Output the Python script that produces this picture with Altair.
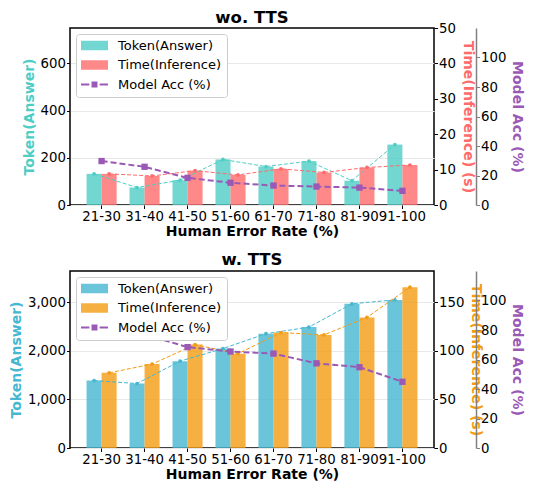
import altair as alt
import pandas as pd

cats = ["21-30", "31-40", "41-50", "51-60", "61-70", "71-80", "81-90", "91-100"]

wo_token = [132, 74, 105, 193, 163, 186, 103, 256]
wo_time = [8.8, 8.2, 9.7, 8.5, 10.2, 9.2, 10.6, 11.3]
wo_acc = [29.8, 25.9, 18.4, 15.1, 13.2, 12.5, 11.8, 9.6]

w_token = [1386, 1326, 1786, 2045, 2350, 2486, 2966, 3046]
w_time = [77.3, 86.3, 106.3, 97.0, 118.7, 116.3, 134.3, 165.3]
w_acc = [75.2, 77.0, 68.4, 65.4, 64.0, 57.4, 54.8, 44.9]

series = ["Token(Answer)", "Time(Inference)", "Model Acc (%)"]

FONT = "DejaVu Sans"
W, H = 364, 177

RECT = "M-1,-0.35H1V0.35H-1Z"
LINESYM = ("M-1,-0.075H-0.38V0.075H-1Z "
           "M-0.22,-0.22H0.22V0.22H-0.22Z "
           "M0.38,-0.075H1V0.075H0.38Z")


def panel(title, title_offset, token, time, acc, c_tok, c_time, leg_tok, leg_time,
          tok_dom, tok_ticks, tok_fmt, time_dom, time_ticks):
    c_acc = "#9B59B6"
    df = pd.DataFrame({"cat": cats, "token": token, "time": time, "acc": acc})
    base = alt.Chart(df).transform_calculate(s_tok="'Token'", s_time="'Time'")

    xcat = alt.X("cat:N", sort=cats,
                 scale=alt.Scale(paddingInner=0.3, paddingOuter=0.385),
                 axis=alt.Axis(title="Human Error Rate (%)", labelAngle=0, titlePadding=2))
    xoff_dom = alt.Scale(domain=["Token", "Time"], paddingInner=0, paddingOuter=0)

    y_tok = lambda ax: alt.Y("token:Q", scale=alt.Scale(domain=tok_dom, nice=False), axis=ax)
    y_time = lambda ax: alt.Y("time:Q", scale=alt.Scale(domain=time_dom, nice=False), axis=ax)
    y_acc = lambda ax: alt.Y("acc:Q", scale=alt.Scale(domain=[0, 120], nice=False), axis=ax)

    tok_axis = alt.Axis(title="Token(Answer)", titleColor=c_tok, values=tok_ticks,
                        format=tok_fmt, grid=True, orient="left")
    time_axis = alt.Axis(title="Time(Inference) (s)", titleColor=c_time, values=time_ticks,
                         grid=False, orient="right", titlePadding=5)
    acc_axis = alt.Axis(title="Model Acc (%)", titleColor=c_acc, values=[0, 20, 40, 60, 80, 100],
                        grid=False, orient="right", offset=42, domain=True, titlePadding=4,
                        domainColor="#808080", domainWidth=1.5, tickColor="#808080")

    tok_bar = base.mark_bar(color=c_tok, opacity=0.8).encode(
        x=xcat, xOffset=alt.XOffset("s_tok:N", scale=xoff_dom), y=y_tok(tok_axis))
    time_bar = base.mark_bar(color=c_time, opacity=0.8).encode(
        x=xcat, xOffset=alt.XOffset("s_time:N", scale=xoff_dom), y=y_time(time_axis))

    x_tok = alt.X("cat:N", sort=cats, bandPosition=0.25)
    x_time = alt.X("cat:N", sort=cats, bandPosition=0.75)
    x_mid = alt.X("cat:N", sort=cats, bandPosition=0.5)

    tok_line = base.mark_line(color=c_tok, strokeWidth=1, strokeDash=[4, 2]).encode(
        x=x_tok, y=y_tok(None))
    tok_pt = base.mark_point(color=c_tok, filled=True, opacity=1, size=14).encode(
        x=x_tok, y=y_tok(None))
    time_line = base.mark_line(color=c_time, strokeWidth=1, strokeDash=[4, 2]).encode(
        x=x_time, y=y_time(None))
    time_pt = base.mark_point(color=c_time, filled=True, opacity=1, size=14).encode(
        x=x_time, y=y_time(None))
    acc_line = base.mark_line(color=c_acc, strokeWidth=2, strokeDash=[6, 3]).encode(
        x=x_mid, y=y_acc(acc_axis))
    acc_pt = base.mark_point(color=c_acc, filled=True, opacity=1, shape="square", size=40).encode(
        x=x_mid, y=y_acc(None))

    leg_df = pd.DataFrame({"series": series})
    legend = alt.Chart(leg_df).transform_filter("false").mark_point(filled=True, opacity=1).encode(
        color=alt.Color("series:N", scale=alt.Scale(domain=series, range=[leg_tok, leg_time, c_acc]),
                        legend=alt.Legend(title=None, orient="top-left", offset=6,
                                          fillColor="white", strokeColor="#cccccc",
                                          cornerRadius=3, padding=5,
                                          labelFont=FONT, labelFontSize=13, labelColor="black",
                                          symbolSize=729, labelOffset=10, rowPadding=5.5,
                                          clipHeight=13, symbolStrokeWidth=0)),
        shape=alt.Shape("series:N", scale=alt.Scale(domain=series, range=[RECT, RECT, LINESYM]),
                        legend=alt.Legend(title=None, orient="top-left")),
    )

    ch = alt.layer(tok_bar, time_bar, tok_line, tok_pt, time_line, time_pt, acc_line, acc_pt, legend
                   ).resolve_scale(y="independent").properties(
        width=W, height=H,
        title=alt.TitleParams(title, fontSize=16.5, font=FONT, fontWeight="bold",
                              frame="group", anchor="middle", offset=title_offset, color="black"))
    return ch


top = panel("wo. TTS", -5, wo_token, wo_time, wo_acc, "#4ECDC4", "#FF6B6B", "#71d7d0", "#ff8989",
            [0, 750], [0, 200, 400, 600], "d", [0, 50], [0, 10, 20, 30, 40, 50])
bottom = panel("w. TTS", 3, w_token, w_time, w_acc, "#45B7D1", "#F39C12", "#6ac5da", "#f5b041",
               [0, 3640], [0, 1000, 2000, 3000], ",d", [0, 182], [0, 50, 100, 150])

chart = alt.vconcat(top, bottom, spacing=10).resolve_scale(
    color="independent", shape="independent"
).properties(padding=0).configure_view(
    stroke="black", strokeWidth=1.5).configure_axis(
    labelFont=FONT, labelFontSize=13.3, labelColor="black",
    titleFont=FONT, titleFontSize=14, titleFontWeight="bold", titleColor="black",
    tickColor="black", tickSize=3.5, labelPadding=1, domain=False,
    gridColor="#e8e8e8", titlePadding=4,
)

chart.save("out.html", embed_options={"renderer": "svg", "actions": False})
